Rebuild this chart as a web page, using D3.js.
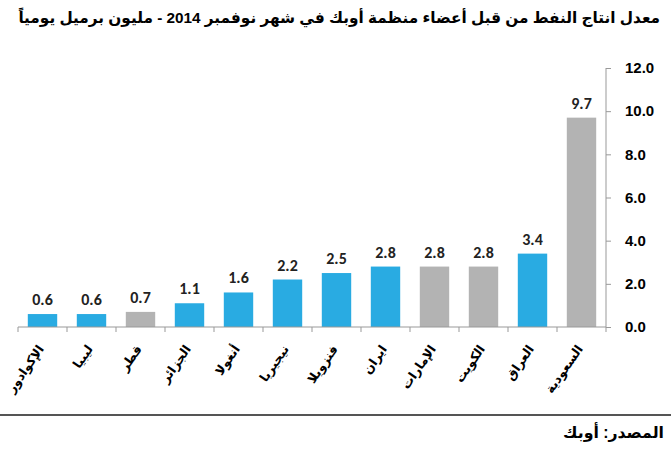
<!DOCTYPE html>
<html><head><meta charset="utf-8">
<script src="https://cdn.jsdelivr.net/npm/d3@7"></script>
<style>body{margin:0;background:#fff}svg{display:block}</style>
</head><body>
<svg id="c" width="671" height="450"></svg>
<script>
const categories = ["الإكوادور","ليبيا","قطر","الجزائر","أنغولا","نيجيريا","فنزويلا","ايران","الإمارات","الكويت","العراق","السعودية"];
const values = [0.6,0.6,0.7,1.1,1.6,2.2,2.5,2.8,2.8,2.8,3.4,9.7];
const highlighted = ["قطر","الإمارات","الكويت","السعودية"];
const yTicks = [0,2,4,6,8,10,12];
const titleText = "معدل انتاج النفط من قبل أعضاء منظمة أوبك في شهر نوفمبر 2014 - مليون برميل يومياً";
const sourceText = "المصدر: أوبك";

const svg = d3.select("#c");
const font = "Arial, 'Liberation Sans', 'DejaVu Sans', sans-serif";
const x = d3.scaleBand().domain(categories).range([18, 606]).paddingInner(0.4).paddingOuter(0.2);
const y = d3.scaleLinear().domain([0, 12]).range([327, 68]);

function fitWidth(sel, w, maxSize) {
  let s = maxSize;
  sel.attr("font-size", s);
  const len = sel.node().getComputedTextLength();
  if (len > w) sel.attr("font-size", s * w / len);
}

const title = svg.append("text").attr("x", 660).attr("y", 23).attr("direction", "rtl")
  .attr("text-anchor", "start")
  .attr("font-family", font).attr("font-weight", "bold").attr("fill", "#000")
  .text(titleText);
fitWidth(title, 642, 17);

svg.selectAll("rect.bar").data(values).enter().append("rect").attr("class", "bar")
  .attr("x", (d, i) => x(categories[i])).attr("width", x.bandwidth())
  .attr("y", d => y(d)).attr("height", d => y(0) - y(d))
  .attr("fill", (d, i) => highlighted.includes(categories[i]) ? "#b3b3b3" : "#29abe2");

svg.selectAll("text.val").data(values).enter().append("text").attr("class", "val")
  .attr("x", (d, i) => x(categories[i]) + x.bandwidth() / 2).attr("y", d => y(d) - 9)
  .attr("text-anchor", "middle").attr("font-family", "Carlito, Calibri, 'Open Sans', sans-serif")
  .attr("font-weight", "bold").attr("font-size", 16).attr("fill", "#222")
  .text(d => d.toFixed(1));

// x axis
const xAxis = svg.append("g").attr("transform", "translate(0,327)")
  .call(d3.axisBottom(x).tickSize(0).tickFormat(""));
xAxis.select(".domain").attr("stroke", "#999").attr("d", "M18,0H606");
const bounds = categories.map(c => x(c) - x.step() * x.paddingInner() / 2).concat([606]);
xAxis.selectAll("line.bt").data(bounds).enter().append("line").attr("class", "bt")
  .attr("x1", d => d).attr("x2", d => d).attr("y1", 0).attr("y2", 5).attr("stroke", "#999");

svg.selectAll("text.cat").data(categories).enter().append("text").attr("class", "cat")
  .attr("transform", d => `translate(${x(d) + x.bandwidth() / 2 + 2},349) rotate(-55)`)
  .attr("direction", "rtl").attr("text-anchor", "start")
  .attr("font-family", font).attr("font-weight", "bold")
  .attr("font-size", 12.5).attr("fill", "#000").text(d => d);

// y axis
const yAxis = svg.append("g").attr("transform", "translate(606,0)")
  .call(d3.axisRight(y).tickValues(yTicks).tickSize(5).tickPadding(14).tickFormat(d => d.toFixed(1)));
yAxis.select(".domain").attr("stroke", "#999").attr("d", "M0,68V327");
yAxis.selectAll(".tick line").attr("stroke", "#999");
yAxis.selectAll(".tick text").attr("font-family", font).attr("font-weight", "bold")
  .attr("font-size", 15).attr("fill", "#000");

svg.append("line").attr("x1", 0).attr("x2", 671).attr("y1", 415).attr("y2", 415)
  .attr("stroke", "#555").attr("stroke-width", 2);
const src = svg.append("text").attr("x", 664).attr("y", 438).attr("direction", "rtl")
  .attr("text-anchor", "start")
  .attr("font-family", font).attr("font-weight", "bold").attr("fill", "#000")
  .text(sourceText);
fitWidth(src, 101, 16);
</script>
</body></html>
